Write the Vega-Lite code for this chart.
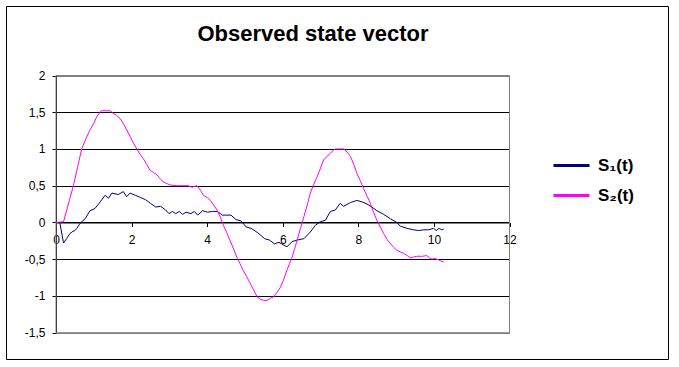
{
  "$schema": "https://vega.github.io/schema/vega-lite/v6.json",
  "width": 662,
  "height": 353,
  "autosize": {"type": "none"},
  "padding": {"left": 6, "top": 6, "right": 11, "bottom": 8},
  "background": "white",
  "config": {
    "view": {"stroke": "black", "strokeWidth": 1},
    "font": "Liberation Sans"
  },
  "title": {
    "text": "Observed state vector",
    "font": "Liberation Sans",
    "fontSize": 22,
    "fontWeight": "bold",
    "color": "black",
    "anchor": "middle",
    "baseline": "alphabetic",
    "offset": 0,
    "dy": 57,
    "dx": -24
  },
  "datasets": {
    "series": [
      {"t": 0, "v": 0, "s": "S₁(t)"},
      {"t": 0.1, "v": 0, "s": "S₁(t)"},
      {"t": 0.2, "v": -0.28, "s": "S₁(t)"},
      {"t": 0.28, "v": -0.22, "s": "S₁(t)"},
      {"t": 0.37, "v": -0.15, "s": "S₁(t)"},
      {"t": 0.45, "v": -0.12, "s": "S₁(t)"},
      {"t": 0.5, "v": -0.11, "s": "S₁(t)"},
      {"t": 0.55, "v": -0.08, "s": "S₁(t)"},
      {"t": 0.64, "v": -0.01, "s": "S₁(t)"},
      {"t": 0.77, "v": 0.05, "s": "S₁(t)"},
      {"t": 0.9, "v": 0.16, "s": "S₁(t)"},
      {"t": 1.03, "v": 0.19, "s": "S₁(t)"},
      {"t": 1.17, "v": 0.28, "s": "S₁(t)"},
      {"t": 1.3, "v": 0.37, "s": "S₁(t)"},
      {"t": 1.39, "v": 0.33, "s": "S₁(t)"},
      {"t": 1.48, "v": 0.4, "s": "S₁(t)"},
      {"t": 1.65, "v": 0.38, "s": "S₁(t)"},
      {"t": 1.78, "v": 0.42, "s": "S₁(t)"},
      {"t": 1.87, "v": 0.35, "s": "S₁(t)"},
      {"t": 1.96, "v": 0.4, "s": "S₁(t)"},
      {"t": 2.1, "v": 0.37, "s": "S₁(t)"},
      {"t": 2.24, "v": 0.34, "s": "S₁(t)"},
      {"t": 2.37, "v": 0.31, "s": "S₁(t)"},
      {"t": 2.5, "v": 0.26, "s": "S₁(t)"},
      {"t": 2.64, "v": 0.21, "s": "S₁(t)"},
      {"t": 2.77, "v": 0.22, "s": "S₁(t)"},
      {"t": 2.9, "v": 0.17, "s": "S₁(t)"},
      {"t": 2.99, "v": 0.12, "s": "S₁(t)"},
      {"t": 3.08, "v": 0.15, "s": "S₁(t)"},
      {"t": 3.17, "v": 0.12, "s": "S₁(t)"},
      {"t": 3.26, "v": 0.15, "s": "S₁(t)"},
      {"t": 3.35, "v": 0.11, "s": "S₁(t)"},
      {"t": 3.44, "v": 0.14, "s": "S₁(t)"},
      {"t": 3.57, "v": 0.12, "s": "S₁(t)"},
      {"t": 3.66, "v": 0.15, "s": "S₁(t)"},
      {"t": 3.75, "v": 0.1, "s": "S₁(t)"},
      {"t": 3.88, "v": 0.16, "s": "S₁(t)"},
      {"t": 4.01, "v": 0.14, "s": "S₁(t)"},
      {"t": 4.14, "v": 0.15, "s": "S₁(t)"},
      {"t": 4.27, "v": 0.15, "s": "S₁(t)"},
      {"t": 4.4, "v": 0.1, "s": "S₁(t)"},
      {"t": 4.63, "v": 0.1, "s": "S₁(t)"},
      {"t": 4.76, "v": 0.04, "s": "S₁(t)"},
      {"t": 4.9, "v": 0.02, "s": "S₁(t)"},
      {"t": 5.03, "v": -0.06, "s": "S₁(t)"},
      {"t": 5.16, "v": -0.08, "s": "S₁(t)"},
      {"t": 5.34, "v": -0.14, "s": "S₁(t)"},
      {"t": 5.52, "v": -0.22, "s": "S₁(t)"},
      {"t": 5.65, "v": -0.24, "s": "S₁(t)"},
      {"t": 5.78, "v": -0.29, "s": "S₁(t)"},
      {"t": 5.9, "v": -0.27, "s": "S₁(t)"},
      {"t": 6.03, "v": -0.31, "s": "S₁(t)"},
      {"t": 6.11, "v": -0.33, "s": "S₁(t)"},
      {"t": 6.25, "v": -0.26, "s": "S₁(t)"},
      {"t": 6.38, "v": -0.24, "s": "S₁(t)"},
      {"t": 6.56, "v": -0.22, "s": "S₁(t)"},
      {"t": 6.73, "v": -0.13, "s": "S₁(t)"},
      {"t": 6.86, "v": -0.04, "s": "S₁(t)"},
      {"t": 6.99, "v": 0.01, "s": "S₁(t)"},
      {"t": 7.13, "v": 0.03, "s": "S₁(t)"},
      {"t": 7.26, "v": 0.15, "s": "S₁(t)"},
      {"t": 7.39, "v": 0.17, "s": "S₁(t)"},
      {"t": 7.52, "v": 0.26, "s": "S₁(t)"},
      {"t": 7.61, "v": 0.22, "s": "S₁(t)"},
      {"t": 7.79, "v": 0.27, "s": "S₁(t)"},
      {"t": 7.96, "v": 0.3, "s": "S₁(t)"},
      {"t": 8.1, "v": 0.28, "s": "S₁(t)"},
      {"t": 8.23, "v": 0.25, "s": "S₁(t)"},
      {"t": 8.36, "v": 0.21, "s": "S₁(t)"},
      {"t": 8.49, "v": 0.16, "s": "S₁(t)"},
      {"t": 8.67, "v": 0.11, "s": "S₁(t)"},
      {"t": 8.85, "v": 0.05, "s": "S₁(t)"},
      {"t": 9.02, "v": 0.0, "s": "S₁(t)"},
      {"t": 9.11, "v": -0.05, "s": "S₁(t)"},
      {"t": 9.29, "v": -0.08, "s": "S₁(t)"},
      {"t": 9.46, "v": -0.1, "s": "S₁(t)"},
      {"t": 9.6, "v": -0.11, "s": "S₁(t)"},
      {"t": 9.73, "v": -0.1, "s": "S₁(t)"},
      {"t": 9.86, "v": -0.1, "s": "S₁(t)"},
      {"t": 9.99, "v": -0.08, "s": "S₁(t)"},
      {"t": 10.06, "v": -0.11, "s": "S₁(t)"},
      {"t": 10.13, "v": -0.08, "s": "S₁(t)"},
      {"t": 10.21, "v": -0.1, "s": "S₁(t)"},
      {"t": 10.26, "v": -0.09, "s": "S₁(t)"},
      {"t": 0, "v": 0, "s": "S₂(t)"},
      {"t": 0.2, "v": 0.01, "s": "S₂(t)"},
      {"t": 0.3, "v": 0.2, "s": "S₂(t)"},
      {"t": 0.46, "v": 0.5, "s": "S₂(t)"},
      {"t": 0.57, "v": 0.75, "s": "S₂(t)"},
      {"t": 0.68, "v": 1.0, "s": "S₂(t)"},
      {"t": 0.8, "v": 1.15, "s": "S₂(t)"},
      {"t": 0.9, "v": 1.26, "s": "S₂(t)"},
      {"t": 1.0, "v": 1.35, "s": "S₂(t)"},
      {"t": 1.08, "v": 1.44, "s": "S₂(t)"},
      {"t": 1.15, "v": 1.49, "s": "S₂(t)"},
      {"t": 1.2, "v": 1.52, "s": "S₂(t)"},
      {"t": 1.43, "v": 1.52, "s": "S₂(t)"},
      {"t": 1.5, "v": 1.49, "s": "S₂(t)"},
      {"t": 1.6, "v": 1.46, "s": "S₂(t)"},
      {"t": 1.7, "v": 1.41, "s": "S₂(t)"},
      {"t": 1.78, "v": 1.35, "s": "S₂(t)"},
      {"t": 1.87, "v": 1.26, "s": "S₂(t)"},
      {"t": 1.96, "v": 1.17, "s": "S₂(t)"},
      {"t": 2.05, "v": 1.08, "s": "S₂(t)"},
      {"t": 2.14, "v": 1.0, "s": "S₂(t)"},
      {"t": 2.22, "v": 0.93, "s": "S₂(t)"},
      {"t": 2.31, "v": 0.87, "s": "S₂(t)"},
      {"t": 2.4, "v": 0.79, "s": "S₂(t)"},
      {"t": 2.49, "v": 0.71, "s": "S₂(t)"},
      {"t": 2.58, "v": 0.68, "s": "S₂(t)"},
      {"t": 2.67, "v": 0.65, "s": "S₂(t)"},
      {"t": 2.75, "v": 0.6, "s": "S₂(t)"},
      {"t": 2.84, "v": 0.55, "s": "S₂(t)"},
      {"t": 2.93, "v": 0.53, "s": "S₂(t)"},
      {"t": 3.02, "v": 0.51, "s": "S₂(t)"},
      {"t": 3.2, "v": 0.5, "s": "S₂(t)"},
      {"t": 3.5, "v": 0.5, "s": "S₂(t)"},
      {"t": 3.6, "v": 0.48, "s": "S₂(t)"},
      {"t": 3.73, "v": 0.5, "s": "S₂(t)"},
      {"t": 3.82, "v": 0.44, "s": "S₂(t)"},
      {"t": 3.9, "v": 0.37, "s": "S₂(t)"},
      {"t": 4.0, "v": 0.34, "s": "S₂(t)"},
      {"t": 4.08, "v": 0.3, "s": "S₂(t)"},
      {"t": 4.17, "v": 0.24, "s": "S₂(t)"},
      {"t": 4.26, "v": 0.17, "s": "S₂(t)"},
      {"t": 4.35, "v": 0.07, "s": "S₂(t)"},
      {"t": 4.43, "v": -0.04, "s": "S₂(t)"},
      {"t": 4.52, "v": -0.14, "s": "S₂(t)"},
      {"t": 4.6, "v": -0.24, "s": "S₂(t)"},
      {"t": 4.7, "v": -0.36, "s": "S₂(t)"},
      {"t": 4.78, "v": -0.47, "s": "S₂(t)"},
      {"t": 4.87, "v": -0.56, "s": "S₂(t)"},
      {"t": 4.95, "v": -0.65, "s": "S₂(t)"},
      {"t": 5.05, "v": -0.74, "s": "S₂(t)"},
      {"t": 5.15, "v": -0.84, "s": "S₂(t)"},
      {"t": 5.24, "v": -0.93, "s": "S₂(t)"},
      {"t": 5.32, "v": -1.01, "s": "S₂(t)"},
      {"t": 5.42, "v": -1.05, "s": "S₂(t)"},
      {"t": 5.5, "v": -1.06, "s": "S₂(t)"},
      {"t": 5.59, "v": -1.06, "s": "S₂(t)"},
      {"t": 5.68, "v": -1.03, "s": "S₂(t)"},
      {"t": 5.76, "v": -1.01, "s": "S₂(t)"},
      {"t": 5.85, "v": -0.95, "s": "S₂(t)"},
      {"t": 5.94, "v": -0.88, "s": "S₂(t)"},
      {"t": 6.03, "v": -0.77, "s": "S₂(t)"},
      {"t": 6.11, "v": -0.65, "s": "S₂(t)"},
      {"t": 6.18, "v": -0.56, "s": "S₂(t)"},
      {"t": 6.25, "v": -0.47, "s": "S₂(t)"},
      {"t": 6.32, "v": -0.35, "s": "S₂(t)"},
      {"t": 6.38, "v": -0.24, "s": "S₂(t)"},
      {"t": 6.47, "v": -0.08, "s": "S₂(t)"},
      {"t": 6.56, "v": 0.08, "s": "S₂(t)"},
      {"t": 6.65, "v": 0.24, "s": "S₂(t)"},
      {"t": 6.73, "v": 0.4, "s": "S₂(t)"},
      {"t": 6.82, "v": 0.52, "s": "S₂(t)"},
      {"t": 6.91, "v": 0.62, "s": "S₂(t)"},
      {"t": 7.0, "v": 0.74, "s": "S₂(t)"},
      {"t": 7.08, "v": 0.85, "s": "S₂(t)"},
      {"t": 7.17, "v": 0.9, "s": "S₂(t)"},
      {"t": 7.26, "v": 0.94, "s": "S₂(t)"},
      {"t": 7.33, "v": 0.98, "s": "S₂(t)"},
      {"t": 7.39, "v": 1.0, "s": "S₂(t)"},
      {"t": 7.61, "v": 1.0, "s": "S₂(t)"},
      {"t": 7.7, "v": 0.96, "s": "S₂(t)"},
      {"t": 7.79, "v": 0.9, "s": "S₂(t)"},
      {"t": 7.88, "v": 0.79, "s": "S₂(t)"},
      {"t": 7.96, "v": 0.67, "s": "S₂(t)"},
      {"t": 8.05, "v": 0.57, "s": "S₂(t)"},
      {"t": 8.14, "v": 0.46, "s": "S₂(t)"},
      {"t": 8.23, "v": 0.36, "s": "S₂(t)"},
      {"t": 8.32, "v": 0.26, "s": "S₂(t)"},
      {"t": 8.4, "v": 0.14, "s": "S₂(t)"},
      {"t": 8.49, "v": 0.03, "s": "S₂(t)"},
      {"t": 8.58, "v": -0.06, "s": "S₂(t)"},
      {"t": 8.67, "v": -0.15, "s": "S₂(t)"},
      {"t": 8.76, "v": -0.23, "s": "S₂(t)"},
      {"t": 8.85, "v": -0.29, "s": "S₂(t)"},
      {"t": 8.94, "v": -0.34, "s": "S₂(t)"},
      {"t": 9.02, "v": -0.38, "s": "S₂(t)"},
      {"t": 9.11, "v": -0.4, "s": "S₂(t)"},
      {"t": 9.2, "v": -0.42, "s": "S₂(t)"},
      {"t": 9.29, "v": -0.45, "s": "S₂(t)"},
      {"t": 9.37, "v": -0.48, "s": "S₂(t)"},
      {"t": 9.46, "v": -0.47, "s": "S₂(t)"},
      {"t": 9.55, "v": -0.46, "s": "S₂(t)"},
      {"t": 9.7, "v": -0.46, "s": "S₂(t)"},
      {"t": 9.81, "v": -0.45, "s": "S₂(t)"},
      {"t": 9.88, "v": -0.48, "s": "S₂(t)"},
      {"t": 9.95, "v": -0.5, "s": "S₂(t)"},
      {"t": 10.0, "v": -0.49, "s": "S₂(t)"},
      {"t": 10.08, "v": -0.5, "s": "S₂(t)"},
      {"t": 10.17, "v": -0.52, "s": "S₂(t)"},
      {"t": 10.26, "v": -0.54, "s": "S₂(t)"}
    ]
  },
  "layer": [
    {
      "data": {"values": [{}]},
      "mark": {"type": "rect", "fill": null, "stroke": "#808080", "strokeWidth": 1},
      "encoding": {
        "x": {"datum": 0, "type": "quantitative"},
        "x2": {"datum": 12},
        "y": {"datum": -1.5, "type": "quantitative"},
        "y2": {"datum": 2}
      }
    },
    {
      "data": {"name": "series"},
      "mark": {"type": "line", "strokeWidth": 1, "interpolate": "linear"},
      "encoding": {
        "x": {
          "field": "t",
          "type": "quantitative",
          "scale": {"domain": [0, 12], "range": [50, 503.5], "nice": false, "zero": false},
          "axis": {
            "title": null,
            "orient": "bottom",
            "offset": -136.5,
            "values": [0, 2, 4, 6, 8, 10, 12],
            "labelExpr": "toString(datum.value)",
            "grid": false,
            "domainColor": "black",
            "domainWidth": 1,
            "tickColor": "black",
            "tickSize": 4,
            "labelFont": "Liberation Sans",
            "labelFontSize": 12,
            "labelColor": "black",
            "labelPadding": 8,
            "labelFlush": false,
            "labelOverlap": false
          }
        },
        "y": {
          "field": "v",
          "type": "quantitative",
          "scale": {"domain": [-1.5, 2], "range": [326.7, 69.5], "nice": false, "zero": false},
          "axis": {
            "title": null,
            "orient": "left",
            "offset": -50,
            "values": [-1.5, -1, -0.5, 0, 0.5, 1, 1.5, 2],
            "labelExpr": "replace(toString(datum.value), '.', ',')",
            "grid": true,
            "gridColor": {"condition": {"test": "datum.value == 2 || datum.value == -1.5", "value": "#808080"}, "value": "black"},
            "gridWidth": 1,
            "domainColor": "black",
            "domainWidth": 1,
            "tickColor": "black",
            "tickSize": 4,
            "labelFont": "Liberation Sans",
            "labelFontSize": 12,
            "labelColor": "black",
            "labelPadding": 7,
            "labelFlush": false,
            "labelOverlap": false
          }
        },
        "color": {
          "field": "s",
          "type": "nominal",
          "scale": {"domain": ["S₁(t)", "S₂(t)"], "range": ["#000080", "#FF00FF"]},
          "legend": {
            "title": null,
            "orient": "none",
            "legendX": 546,
            "legendY": 140,
            "symbolType": "stroke",
            "symbolSize": 1296,
            "symbolStrokeWidth": 3,
            "labelFont": "Liberation Sans",
            "labelFontSize": 17,
            "labelFontWeight": "bold",
            "labelColor": "black",
            "labelOffset": 7,
            "rowPadding": 2,
            "padding": 0
          }
        }
      }
    }
  ]
}
